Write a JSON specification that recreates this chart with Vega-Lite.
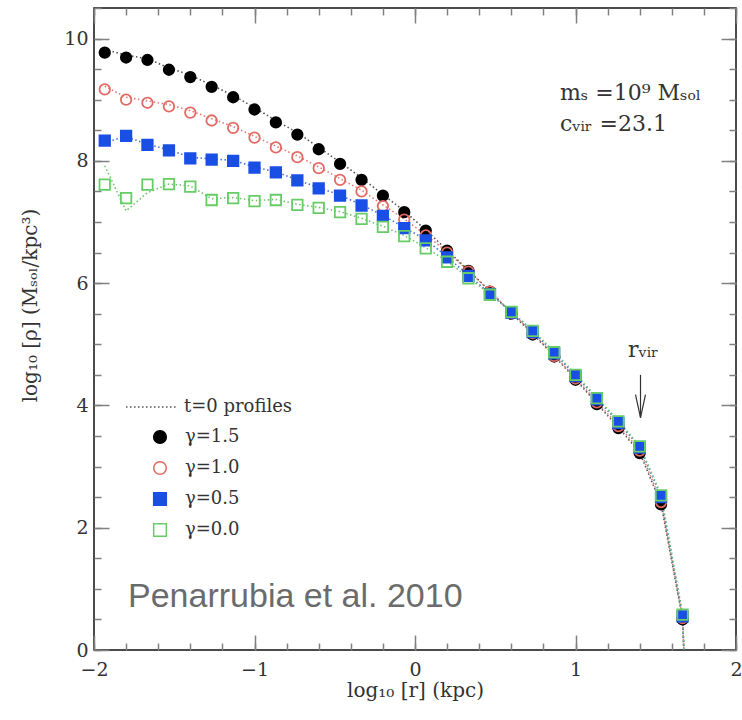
{
  "$schema": "https://vega.github.io/schema/vega-lite/v6.json",
  "width": 642,
  "height": 642,
  "autosize": {"type": "none"},
  "padding": {"left": 94, "top": 8, "right": 6, "bottom": 70},
  "background": "white",
  "config": {
    "view": {"stroke": "#111", "strokeWidth": 1.5},
    "axis": {"domain": false, "grid": false, "ticks": true, "tickColor": "#808080", "tickWidth": 1.5, "zindex": 1, "labelFont": "DejaVu Serif", "labelFontSize": 19, "labelColor": "#333", "titleFont": "DejaVu Serif", "titleFontSize": 20, "titleColor": "#333", "titleFontWeight": "normal"},
    "legend": {"labelFont": "DejaVu Serif", "labelFontSize": 18, "labelColor": "#333", "padding": 0}
  },
  "datasets": {
    "pts": [
      {"x": -1.933, "rho": 9.77, "gamma": "γ=1.5"}, {"x": -1.8, "rho": 9.69, "gamma": "γ=1.5"}, {"x": -1.667, "rho": 9.65, "gamma": "γ=1.5"}, {"x": -1.533, "rho": 9.49, "gamma": "γ=1.5"}, {"x": -1.4, "rho": 9.37, "gamma": "γ=1.5"}, {"x": -1.267, "rho": 9.21, "gamma": "γ=1.5"}, {"x": -1.133, "rho": 9.04, "gamma": "γ=1.5"}, {"x": -1.0, "rho": 8.84, "gamma": "γ=1.5"}, {"x": -0.867, "rho": 8.63, "gamma": "γ=1.5"}, {"x": -0.733, "rho": 8.43, "gamma": "γ=1.5"}, {"x": -0.6, "rho": 8.19, "gamma": "γ=1.5"}, {"x": -0.467, "rho": 7.95, "gamma": "γ=1.5"}, {"x": -0.333, "rho": 7.69, "gamma": "γ=1.5"}, {"x": -0.2, "rho": 7.43, "gamma": "γ=1.5"}, {"x": -0.067, "rho": 7.16, "gamma": "γ=1.5"}, {"x": 0.067, "rho": 6.86, "gamma": "γ=1.5"}, {"x": 0.2, "rho": 6.53, "gamma": "γ=1.5"}, {"x": 0.333, "rho": 6.2, "gamma": "γ=1.5"}, {"x": 0.467, "rho": 5.86, "gamma": "γ=1.5"}, {"x": 0.6, "rho": 5.5, "gamma": "γ=1.5"}, {"x": 0.733, "rho": 5.16, "gamma": "γ=1.5"}, {"x": 0.867, "rho": 4.8, "gamma": "γ=1.5"}, {"x": 1.0, "rho": 4.42, "gamma": "γ=1.5"}, {"x": 1.133, "rho": 4.02, "gamma": "γ=1.5"}, {"x": 1.267, "rho": 3.63, "gamma": "γ=1.5"}, {"x": 1.4, "rho": 3.22, "gamma": "γ=1.5"}, {"x": 1.533, "rho": 2.38, "gamma": "γ=1.5"}, {"x": 1.667, "rho": 0.5, "gamma": "γ=1.5"},
      {"x": -1.933, "rho": 9.17, "gamma": "γ=1.0"}, {"x": -1.8, "rho": 9.0, "gamma": "γ=1.0"}, {"x": -1.667, "rho": 8.95, "gamma": "γ=1.0"}, {"x": -1.533, "rho": 8.89, "gamma": "γ=1.0"}, {"x": -1.4, "rho": 8.79, "gamma": "γ=1.0"}, {"x": -1.267, "rho": 8.66, "gamma": "γ=1.0"}, {"x": -1.133, "rho": 8.54, "gamma": "γ=1.0"}, {"x": -1.0, "rho": 8.38, "gamma": "γ=1.0"}, {"x": -0.867, "rho": 8.22, "gamma": "γ=1.0"}, {"x": -0.733, "rho": 8.06, "gamma": "γ=1.0"}, {"x": -0.6, "rho": 7.88, "gamma": "γ=1.0"}, {"x": -0.467, "rho": 7.69, "gamma": "γ=1.0"}, {"x": -0.333, "rho": 7.5, "gamma": "γ=1.0"}, {"x": -0.2, "rho": 7.26, "gamma": "γ=1.0"}, {"x": -0.067, "rho": 7.04, "gamma": "γ=1.0"}, {"x": 0.067, "rho": 6.78, "gamma": "γ=1.0"}, {"x": 0.2, "rho": 6.5, "gamma": "γ=1.0"}, {"x": 0.333, "rho": 6.19, "gamma": "γ=1.0"}, {"x": 0.467, "rho": 5.86, "gamma": "γ=1.0"}, {"x": 0.6, "rho": 5.51, "gamma": "γ=1.0"}, {"x": 0.733, "rho": 5.18, "gamma": "γ=1.0"}, {"x": 0.867, "rho": 4.81, "gamma": "γ=1.0"}, {"x": 1.0, "rho": 4.44, "gamma": "γ=1.0"}, {"x": 1.133, "rho": 4.05, "gamma": "γ=1.0"}, {"x": 1.267, "rho": 3.66, "gamma": "γ=1.0"}, {"x": 1.4, "rho": 3.26, "gamma": "γ=1.0"}, {"x": 1.533, "rho": 2.42, "gamma": "γ=1.0"}, {"x": 1.667, "rho": 0.52, "gamma": "γ=1.0"},
      {"x": -1.933, "rho": 8.33, "gamma": "γ=0.5"}, {"x": -1.8, "rho": 8.41, "gamma": "γ=0.5"}, {"x": -1.667, "rho": 8.26, "gamma": "γ=0.5"}, {"x": -1.533, "rho": 8.17, "gamma": "γ=0.5"}, {"x": -1.4, "rho": 8.04, "gamma": "γ=0.5"}, {"x": -1.267, "rho": 8.02, "gamma": "γ=0.5"}, {"x": -1.133, "rho": 8.0, "gamma": "γ=0.5"}, {"x": -1.0, "rho": 7.89, "gamma": "γ=0.5"}, {"x": -0.867, "rho": 7.81, "gamma": "γ=0.5"}, {"x": -0.733, "rho": 7.68, "gamma": "γ=0.5"}, {"x": -0.6, "rho": 7.55, "gamma": "γ=0.5"}, {"x": -0.467, "rho": 7.43, "gamma": "γ=0.5"}, {"x": -0.333, "rho": 7.27, "gamma": "γ=0.5"}, {"x": -0.2, "rho": 7.1, "gamma": "γ=0.5"}, {"x": -0.067, "rho": 6.9, "gamma": "γ=0.5"}, {"x": 0.067, "rho": 6.7, "gamma": "γ=0.5"}, {"x": 0.2, "rho": 6.42, "gamma": "γ=0.5"}, {"x": 0.333, "rho": 6.12, "gamma": "γ=0.5"}, {"x": 0.467, "rho": 5.82, "gamma": "γ=0.5"}, {"x": 0.6, "rho": 5.52, "gamma": "γ=0.5"}, {"x": 0.733, "rho": 5.2, "gamma": "γ=0.5"}, {"x": 0.867, "rho": 4.85, "gamma": "γ=0.5"}, {"x": 1.0, "rho": 4.48, "gamma": "γ=0.5"}, {"x": 1.133, "rho": 4.1, "gamma": "γ=0.5"}, {"x": 1.267, "rho": 3.71, "gamma": "γ=0.5"}, {"x": 1.4, "rho": 3.31, "gamma": "γ=0.5"}, {"x": 1.533, "rho": 2.5, "gamma": "γ=0.5"}, {"x": 1.667, "rho": 0.55, "gamma": "γ=0.5"},
      {"x": -1.933, "rho": 7.61, "gamma": "γ=0.0"}, {"x": -1.8, "rho": 7.39, "gamma": "γ=0.0"}, {"x": -1.667, "rho": 7.61, "gamma": "γ=0.0"}, {"x": -1.533, "rho": 7.62, "gamma": "γ=0.0"}, {"x": -1.4, "rho": 7.58, "gamma": "γ=0.0"}, {"x": -1.267, "rho": 7.36, "gamma": "γ=0.0"}, {"x": -1.133, "rho": 7.39, "gamma": "γ=0.0"}, {"x": -1.0, "rho": 7.34, "gamma": "γ=0.0"}, {"x": -0.867, "rho": 7.36, "gamma": "γ=0.0"}, {"x": -0.733, "rho": 7.28, "gamma": "γ=0.0"}, {"x": -0.6, "rho": 7.23, "gamma": "γ=0.0"}, {"x": -0.467, "rho": 7.16, "gamma": "γ=0.0"}, {"x": -0.333, "rho": 7.05, "gamma": "γ=0.0"}, {"x": -0.2, "rho": 6.92, "gamma": "γ=0.0"}, {"x": -0.067, "rho": 6.77, "gamma": "γ=0.0"}, {"x": 0.067, "rho": 6.57, "gamma": "γ=0.0"}, {"x": 0.2, "rho": 6.35, "gamma": "γ=0.0"}, {"x": 0.333, "rho": 6.08, "gamma": "γ=0.0"}, {"x": 0.467, "rho": 5.81, "gamma": "γ=0.0"}, {"x": 0.6, "rho": 5.53, "gamma": "γ=0.0"}, {"x": 0.733, "rho": 5.22, "gamma": "γ=0.0"}, {"x": 0.867, "rho": 4.87, "gamma": "γ=0.0"}, {"x": 1.0, "rho": 4.5, "gamma": "γ=0.0"}, {"x": 1.133, "rho": 4.12, "gamma": "γ=0.0"}, {"x": 1.267, "rho": 3.74, "gamma": "γ=0.0"}, {"x": 1.4, "rho": 3.33, "gamma": "γ=0.0"}, {"x": 1.533, "rho": 2.53, "gamma": "γ=0.0"}, {"x": 1.667, "rho": 0.58, "gamma": "γ=0.0"}
    ],
    "t0": [
      {"x": -1.933, "rho": 9.82, "gamma": "γ=1.5", "profile": "t=0  profiles"}, {"x": -1.8, "rho": 9.73, "gamma": "γ=1.5", "profile": "t=0  profiles"}, {"x": -1.667, "rho": 9.67, "gamma": "γ=1.5", "profile": "t=0  profiles"}, {"x": -1.533, "rho": 9.52, "gamma": "γ=1.5", "profile": "t=0  profiles"}, {"x": -1.4, "rho": 9.4, "gamma": "γ=1.5", "profile": "t=0  profiles"}, {"x": -1.267, "rho": 9.24, "gamma": "γ=1.5", "profile": "t=0  profiles"}, {"x": -1.133, "rho": 9.07, "gamma": "γ=1.5", "profile": "t=0  profiles"}, {"x": -1.0, "rho": 8.87, "gamma": "γ=1.5", "profile": "t=0  profiles"}, {"x": -0.867, "rho": 8.66, "gamma": "γ=1.5", "profile": "t=0  profiles"}, {"x": -0.733, "rho": 8.46, "gamma": "γ=1.5", "profile": "t=0  profiles"}, {"x": -0.6, "rho": 8.22, "gamma": "γ=1.5", "profile": "t=0  profiles"}, {"x": -0.467, "rho": 7.98, "gamma": "γ=1.5", "profile": "t=0  profiles"}, {"x": -0.333, "rho": 7.72, "gamma": "γ=1.5", "profile": "t=0  profiles"}, {"x": -0.2, "rho": 7.45, "gamma": "γ=1.5", "profile": "t=0  profiles"}, {"x": -0.067, "rho": 7.18, "gamma": "γ=1.5", "profile": "t=0  profiles"}, {"x": 0.067, "rho": 6.87, "gamma": "γ=1.5", "profile": "t=0  profiles"}, {"x": 0.2, "rho": 6.54, "gamma": "γ=1.5", "profile": "t=0  profiles"}, {"x": 0.333, "rho": 6.21, "gamma": "γ=1.5", "profile": "t=0  profiles"}, {"x": 0.467, "rho": 5.87, "gamma": "γ=1.5", "profile": "t=0  profiles"}, {"x": 0.6, "rho": 5.51, "gamma": "γ=1.5", "profile": "t=0  profiles"}, {"x": 0.733, "rho": 5.17, "gamma": "γ=1.5", "profile": "t=0  profiles"}, {"x": 0.867, "rho": 4.81, "gamma": "γ=1.5", "profile": "t=0  profiles"}, {"x": 1.0, "rho": 4.43, "gamma": "γ=1.5", "profile": "t=0  profiles"}, {"x": 1.133, "rho": 4.03, "gamma": "γ=1.5", "profile": "t=0  profiles"}, {"x": 1.267, "rho": 3.64, "gamma": "γ=1.5", "profile": "t=0  profiles"}, {"x": 1.4, "rho": 3.23, "gamma": "γ=1.5", "profile": "t=0  profiles"}, {"x": 1.533, "rho": 2.39, "gamma": "γ=1.5", "profile": "t=0  profiles"}, {"x": 1.667, "rho": 0.51, "gamma": "γ=1.5", "profile": "t=0  profiles"}, {"x": 1.675, "rho": 0, "gamma": "γ=1.5", "profile": "t=0  profiles"},
      {"x": -1.933, "rho": 9.22, "gamma": "γ=1.0", "profile": "t=0  profiles"}, {"x": -1.8, "rho": 9.04, "gamma": "γ=1.0", "profile": "t=0  profiles"}, {"x": -1.667, "rho": 8.98, "gamma": "γ=1.0", "profile": "t=0  profiles"}, {"x": -1.533, "rho": 8.92, "gamma": "γ=1.0", "profile": "t=0  profiles"}, {"x": -1.4, "rho": 8.82, "gamma": "γ=1.0", "profile": "t=0  profiles"}, {"x": -1.267, "rho": 8.69, "gamma": "γ=1.0", "profile": "t=0  profiles"}, {"x": -1.133, "rho": 8.56, "gamma": "γ=1.0", "profile": "t=0  profiles"}, {"x": -1.0, "rho": 8.4, "gamma": "γ=1.0", "profile": "t=0  profiles"}, {"x": -0.867, "rho": 8.24, "gamma": "γ=1.0", "profile": "t=0  profiles"}, {"x": -0.733, "rho": 8.08, "gamma": "γ=1.0", "profile": "t=0  profiles"}, {"x": -0.6, "rho": 7.9, "gamma": "γ=1.0", "profile": "t=0  profiles"}, {"x": -0.467, "rho": 7.71, "gamma": "γ=1.0", "profile": "t=0  profiles"}, {"x": -0.333, "rho": 7.52, "gamma": "γ=1.0", "profile": "t=0  profiles"}, {"x": -0.2, "rho": 7.28, "gamma": "γ=1.0", "profile": "t=0  profiles"}, {"x": -0.067, "rho": 7.05, "gamma": "γ=1.0", "profile": "t=0  profiles"}, {"x": 0.067, "rho": 6.79, "gamma": "γ=1.0", "profile": "t=0  profiles"}, {"x": 0.2, "rho": 6.51, "gamma": "γ=1.0", "profile": "t=0  profiles"}, {"x": 0.333, "rho": 6.2, "gamma": "γ=1.0", "profile": "t=0  profiles"}, {"x": 0.467, "rho": 5.87, "gamma": "γ=1.0", "profile": "t=0  profiles"}, {"x": 0.6, "rho": 5.52, "gamma": "γ=1.0", "profile": "t=0  profiles"}, {"x": 0.733, "rho": 5.19, "gamma": "γ=1.0", "profile": "t=0  profiles"}, {"x": 0.867, "rho": 4.82, "gamma": "γ=1.0", "profile": "t=0  profiles"}, {"x": 1.0, "rho": 4.45, "gamma": "γ=1.0", "profile": "t=0  profiles"}, {"x": 1.133, "rho": 4.06, "gamma": "γ=1.0", "profile": "t=0  profiles"}, {"x": 1.267, "rho": 3.67, "gamma": "γ=1.0", "profile": "t=0  profiles"}, {"x": 1.4, "rho": 3.27, "gamma": "γ=1.0", "profile": "t=0  profiles"}, {"x": 1.533, "rho": 2.43, "gamma": "γ=1.0", "profile": "t=0  profiles"}, {"x": 1.667, "rho": 0.53, "gamma": "γ=1.0", "profile": "t=0  profiles"}, {"x": 1.675, "rho": 0, "gamma": "γ=1.0", "profile": "t=0  profiles"},
      {"x": -1.933, "rho": 8.3, "gamma": "γ=0.5", "profile": "t=0  profiles"}, {"x": -1.8, "rho": 8.4, "gamma": "γ=0.5", "profile": "t=0  profiles"}, {"x": -1.667, "rho": 8.27, "gamma": "γ=0.5", "profile": "t=0  profiles"}, {"x": -1.533, "rho": 8.18, "gamma": "γ=0.5", "profile": "t=0  profiles"}, {"x": -1.4, "rho": 8.06, "gamma": "γ=0.5", "profile": "t=0  profiles"}, {"x": -1.267, "rho": 8.03, "gamma": "γ=0.5", "profile": "t=0  profiles"}, {"x": -1.133, "rho": 8.01, "gamma": "γ=0.5", "profile": "t=0  profiles"}, {"x": -1.0, "rho": 7.9, "gamma": "γ=0.5", "profile": "t=0  profiles"}, {"x": -0.867, "rho": 7.82, "gamma": "γ=0.5", "profile": "t=0  profiles"}, {"x": -0.733, "rho": 7.69, "gamma": "γ=0.5", "profile": "t=0  profiles"}, {"x": -0.6, "rho": 7.56, "gamma": "γ=0.5", "profile": "t=0  profiles"}, {"x": -0.467, "rho": 7.44, "gamma": "γ=0.5", "profile": "t=0  profiles"}, {"x": -0.333, "rho": 7.28, "gamma": "γ=0.5", "profile": "t=0  profiles"}, {"x": -0.2, "rho": 7.11, "gamma": "γ=0.5", "profile": "t=0  profiles"}, {"x": -0.067, "rho": 6.91, "gamma": "γ=0.5", "profile": "t=0  profiles"}, {"x": 0.067, "rho": 6.71, "gamma": "γ=0.5", "profile": "t=0  profiles"}, {"x": 0.2, "rho": 6.43, "gamma": "γ=0.5", "profile": "t=0  profiles"}, {"x": 0.333, "rho": 6.13, "gamma": "γ=0.5", "profile": "t=0  profiles"}, {"x": 0.467, "rho": 5.83, "gamma": "γ=0.5", "profile": "t=0  profiles"}, {"x": 0.6, "rho": 5.53, "gamma": "γ=0.5", "profile": "t=0  profiles"}, {"x": 0.733, "rho": 5.21, "gamma": "γ=0.5", "profile": "t=0  profiles"}, {"x": 0.867, "rho": 4.86, "gamma": "γ=0.5", "profile": "t=0  profiles"}, {"x": 1.0, "rho": 4.49, "gamma": "γ=0.5", "profile": "t=0  profiles"}, {"x": 1.133, "rho": 4.11, "gamma": "γ=0.5", "profile": "t=0  profiles"}, {"x": 1.267, "rho": 3.72, "gamma": "γ=0.5", "profile": "t=0  profiles"}, {"x": 1.4, "rho": 3.32, "gamma": "γ=0.5", "profile": "t=0  profiles"}, {"x": 1.533, "rho": 2.51, "gamma": "γ=0.5", "profile": "t=0  profiles"}, {"x": 1.667, "rho": 0.56, "gamma": "γ=0.5", "profile": "t=0  profiles"}, {"x": 1.675, "rho": 0, "gamma": "γ=0.5", "profile": "t=0  profiles"},
      {"x": -1.933, "rho": 7.92, "gamma": "γ=0.0", "profile": "t=0  profiles"}, {"x": -1.8, "rho": 7.18, "gamma": "γ=0.0", "profile": "t=0  profiles"}, {"x": -1.667, "rho": 7.48, "gamma": "γ=0.0", "profile": "t=0  profiles"}, {"x": -1.533, "rho": 7.62, "gamma": "γ=0.0", "profile": "t=0  profiles"}, {"x": -1.4, "rho": 7.59, "gamma": "γ=0.0", "profile": "t=0  profiles"}, {"x": -1.267, "rho": 7.38, "gamma": "γ=0.0", "profile": "t=0  profiles"}, {"x": -1.133, "rho": 7.4, "gamma": "γ=0.0", "profile": "t=0  profiles"}, {"x": -1.0, "rho": 7.35, "gamma": "γ=0.0", "profile": "t=0  profiles"}, {"x": -0.867, "rho": 7.37, "gamma": "γ=0.0", "profile": "t=0  profiles"}, {"x": -0.733, "rho": 7.29, "gamma": "γ=0.0", "profile": "t=0  profiles"}, {"x": -0.6, "rho": 7.24, "gamma": "γ=0.0", "profile": "t=0  profiles"}, {"x": -0.467, "rho": 7.17, "gamma": "γ=0.0", "profile": "t=0  profiles"}, {"x": -0.333, "rho": 7.06, "gamma": "γ=0.0", "profile": "t=0  profiles"}, {"x": -0.2, "rho": 6.93, "gamma": "γ=0.0", "profile": "t=0  profiles"}, {"x": -0.067, "rho": 6.78, "gamma": "γ=0.0", "profile": "t=0  profiles"}, {"x": 0.067, "rho": 6.58, "gamma": "γ=0.0", "profile": "t=0  profiles"}, {"x": 0.2, "rho": 6.36, "gamma": "γ=0.0", "profile": "t=0  profiles"}, {"x": 0.333, "rho": 6.09, "gamma": "γ=0.0", "profile": "t=0  profiles"}, {"x": 0.467, "rho": 5.82, "gamma": "γ=0.0", "profile": "t=0  profiles"}, {"x": 0.6, "rho": 5.54, "gamma": "γ=0.0", "profile": "t=0  profiles"}, {"x": 0.733, "rho": 5.23, "gamma": "γ=0.0", "profile": "t=0  profiles"}, {"x": 0.867, "rho": 4.88, "gamma": "γ=0.0", "profile": "t=0  profiles"}, {"x": 1.0, "rho": 4.51, "gamma": "γ=0.0", "profile": "t=0  profiles"}, {"x": 1.133, "rho": 4.13, "gamma": "γ=0.0", "profile": "t=0  profiles"}, {"x": 1.267, "rho": 3.75, "gamma": "γ=0.0", "profile": "t=0  profiles"}, {"x": 1.4, "rho": 3.34, "gamma": "γ=0.0", "profile": "t=0  profiles"}, {"x": 1.533, "rho": 2.54, "gamma": "γ=0.0", "profile": "t=0  profiles"}, {"x": 1.667, "rho": 0.59, "gamma": "γ=0.0", "profile": "t=0  profiles"}, {"x": 1.675, "rho": 0, "gamma": "γ=0.0", "profile": "t=0  profiles"}
    ],
    "notes": [
      {"x": 0.903, "y": 9.0, "label": "mₛ =10⁹ Mₛₒₗ"},
      {"x": 0.903, "y": 8.49, "label": "cᵥᵢᵣ =23.1"},
      {"x": 1.327, "y": 4.8, "label": "rᵥᵢᵣ"}
    ],
    "arrow": [{"x": 1.405, "top": 4.5, "tip": 3.8}],
    "credit": [{"x": -1.788, "y": 0.7, "label": "Penarrubia et al. 2010"}]
  },
  "resolve": {"axis": {"x": "independent", "y": "independent"}, "scale": {"color": "independent"}},
  "layer": [
    {
      "data": {"name": "t0"},
      "mark": {"type": "line", "strokeWidth": 1.6},
      "encoding": {
        "x": {"field": "x", "type": "quantitative", "scale": {"domain": [-2, 2], "nice": false},
          "axis": {"orient": "bottom", "values": [-2, -1, 0, 1, 2], "tickSize": 0, "labelPadding": 10, "labelFlush": false, "title": "log₁₀ [r] (kpc)", "titleX": 321, "titleY": 40, "titleBaseline": "middle"}},
        "y": {"field": "rho", "type": "quantitative", "scale": {"domain": [0, 10.5], "nice": false, "zero": false},
          "axis": {"orient": "left", "values": [0, 2, 4, 6, 8, 10], "tickSize": 0, "labelPadding": 6, "title": "log₁₀ [ρ]  (Mₛₒₗ/kpc³)", "titleX": -64, "titleY": 297, "titleBaseline": "middle"}},
        "color": {"field": "gamma", "type": "nominal", "scale": {"domain": ["γ=1.5", "γ=1.0", "γ=0.5", "γ=0.0"], "range": ["#555555", "#e07a72", "#4a6ee0", "#6cc46c"]}, "legend": null},
        "strokeDash": {"field": "profile", "type": "nominal", "scale": {"range": [[1.5, 2.5]]},
          "legend": {"title": null, "orient": "none", "legendX": 31, "legendY": 373, "symbolType": "stroke", "symbolSize": 2500, "symbolStrokeColor": "#555", "symbolStrokeWidth": 1.5, "symbolDash": [1.5, 2.5], "labelOffset": 7}}
      }
    },
    {
      "data": {"name": "pts"},
      "mark": {"type": "point", "size": 110, "strokeWidth": 1.8, "opacity": 1},
      "encoding": {
        "x": {"field": "x", "type": "quantitative", "axis": {"orient": "bottom", "offset": -15, "values": [-2, -1, 0, 1, 2], "ticks": true, "tickSize": 15, "tickColor": "#808080", "labels": false, "title": null, "zindex": 1}},
        "y": {"field": "rho", "type": "quantitative", "axis": {"orient": "left", "offset": -15, "values": [0, 2, 4, 6, 8, 10], "ticks": true, "tickSize": 15, "tickColor": "#808080", "labels": false, "title": null, "zindex": 1}},
        "stroke": {"field": "gamma", "type": "nominal", "scale": {"domain": ["γ=1.5", "γ=1.0", "γ=0.5", "γ=0.0"], "range": ["#000000", "#e36a62", "#1a4fe6", "#66cc66"]},
          "legend": {"title": null, "orient": "none", "legendX": 57, "legendY": 420, "symbolSize": 160, "labelOffset": 16, "rowPadding": 11}},
        "fill": {"field": "gamma", "type": "nominal", "scale": {"domain": ["γ=1.5", "γ=1.0", "γ=0.5", "γ=0.0"], "range": ["#000000", "transparent", "#1a4fe6", "transparent"]},
          "legend": {"title": null, "orient": "none", "legendX": 57, "legendY": 420, "symbolSize": 160, "labelOffset": 16, "rowPadding": 11}},
        "shape": {"field": "gamma", "type": "nominal", "scale": {"domain": ["γ=1.5", "γ=1.0", "γ=0.5", "γ=0.0"], "range": ["circle", "circle", "square", "square"]},
          "legend": {"title": null, "orient": "none", "legendX": 57, "legendY": 420, "symbolSize": 160, "labelOffset": 16, "rowPadding": 11}}
      }
    },
    {
      "data": {"name": "notes"},
      "mark": {"type": "text", "align": "left", "baseline": "alphabetic", "font": "DejaVu Serif", "fontSize": 22, "color": "#333"},
      "encoding": {
        "x": {"field": "x", "type": "quantitative", "axis": {"orient": "top", "offset": -15, "values": [-2, -1, 0, 1, 2], "ticks": true, "tickSize": 15, "tickColor": "#808080", "labels": false, "title": null, "zindex": 1}},
        "y": {"field": "y", "type": "quantitative", "axis": {"orient": "right", "offset": -15, "values": [0, 2, 4, 6, 8, 10], "ticks": true, "tickSize": 15, "tickColor": "#808080", "labels": false, "title": null, "zindex": 1}},
        "text": {"field": "label"}
      }
    },
    {
      "data": {"name": "arrow"},
      "mark": {"type": "rule", "color": "#333", "strokeWidth": 1.2},
      "encoding": {
        "x": {"field": "x", "type": "quantitative", "axis": {"orient": "top", "offset": -7, "values": [-2, -1.8, -1.6, -1.4, -1.2, -1, -0.8, -0.6, -0.4, -0.2, 0, 0.2, 0.4, 0.6, 0.8, 1, 1.2, 1.4, 1.6, 1.8, 2], "ticks": true, "tickSize": 7, "tickColor": "#808080", "labels": false, "title": null, "zindex": 1}},
        "y": {"field": "top", "type": "quantitative", "axis": {"orient": "right", "offset": -7, "values": [0, 0.5, 1, 1.5, 2, 2.5, 3, 3.5, 4, 4.5, 5, 5.5, 6, 6.5, 7, 7.5, 8, 8.5, 9, 9.5, 10, 10.5], "ticks": true, "tickSize": 7, "tickColor": "#808080", "labels": false, "title": null, "zindex": 1}},
        "y2": {"field": "tip"}
      }
    },
    {
      "data": {"name": "arrow"},
      "mark": {"type": "point", "shape": "M-0.5,-2.3L0,0L0.5,-2.3", "size": 400, "filled": false, "stroke": "#333", "strokeWidth": 1.2, "opacity": 1},
      "encoding": {
        "x": {"field": "x", "type": "quantitative", "axis": {"orient": "bottom", "offset": -7, "values": [-2, -1.8, -1.6, -1.4, -1.2, -1, -0.8, -0.6, -0.4, -0.2, 0, 0.2, 0.4, 0.6, 0.8, 1, 1.2, 1.4, 1.6, 1.8, 2], "ticks": true, "tickSize": 7, "tickColor": "#808080", "labels": false, "title": null, "zindex": 1}},
        "y": {"field": "tip", "type": "quantitative", "axis": {"orient": "left", "offset": -7, "values": [0, 0.5, 1, 1.5, 2, 2.5, 3, 3.5, 4, 4.5, 5, 5.5, 6, 6.5, 7, 7.5, 8, 8.5, 9, 9.5, 10, 10.5], "ticks": true, "tickSize": 7, "tickColor": "#808080", "labels": false, "title": null, "zindex": 1}}
      }
    },
    {
      "data": {"name": "credit"},
      "mark": {"type": "text", "align": "left", "baseline": "alphabetic", "font": "Liberation Sans", "fontSize": 34, "color": "#6b6b6b"},
      "encoding": {
        "x": {"field": "x", "type": "quantitative", "axis": null},
        "y": {"field": "y", "type": "quantitative", "axis": null},
        "text": {"field": "label"}
      }
    }
  ]
}
